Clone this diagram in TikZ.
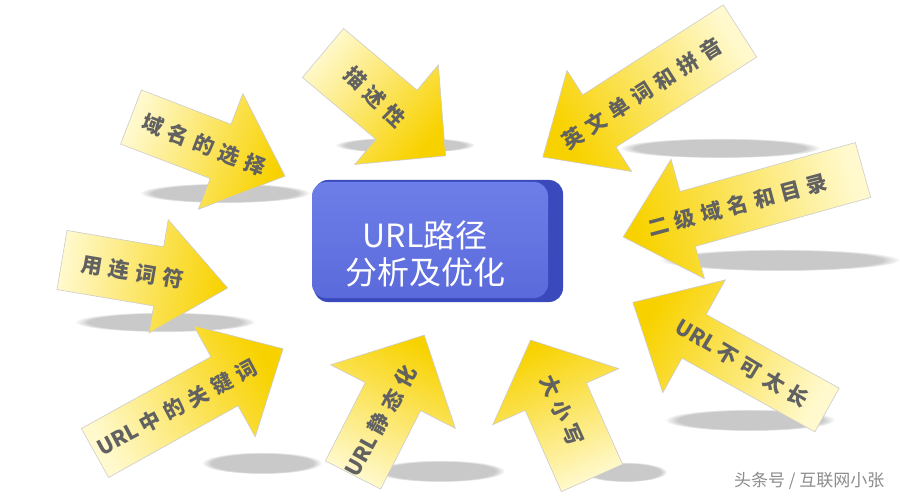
\documentclass[tikz,border=0pt]{standalone}
\usepackage{fontspec}
\setmainfont{Noto Sans CJK SC}
\newfontfamily\arrowfont[LetterSpace=30]{Noto Sans CJK SC}
\newfontfamily\plainlat{Noto Sans CJK SC}
\usetikzlibrary{fadings}
\definecolor{headc}{RGB}{248,210,0}
\definecolor{tailc}{RGB}{255,249,205}
\definecolor{boxfront}{RGB}{90,106,218}
\definecolor{boxtop}{RGB}{110,126,232}
\definecolor{boxside}{RGB}{58,74,188}
\tikzset{
  arrowbody/.style={draw=black!20, line width=0.6pt},
  arrowtext/.style={font=\arrowfont\bfseries\fontsize{21}{21}\selectfont, text=black!62, inner sep=0pt},
  shadowblob/.style={fill=black!50, opacity=0.42, path fading=circle with fuzzy edge 15 percent},
  boxtext/.style={font=\fontsize{32}{37}\selectfont, text=white, align=center},
  watermark/.style={font=\fontsize{17}{17}\selectfont, text=black!45, anchor=east},
}
% #1 tail centre, #2 angle, #3 length, #4 shaft width, #5 head width,
% #6 head length, #7 text position along axis, #8 text angle, #9 text
\newcommand\yarrow[9]{%
  \begin{scope}[shift={#1}, rotate=#2]
    \pgfmathsetmacro\hbase{#3-#6}
    \pgfmathsetmacro\shang{#2-90}
    \shade[arrowbody, bottom color=tailc, top color=headc, shading angle=\shang]
      (0,-#4/2) -- (\hbase,-#4/2) -- (\hbase,-#5/2) -- (#3,0) --
      (\hbase,#5/2) -- (\hbase,#4/2) -- (0,#4/2) -- cycle;
    \node[arrowtext, rotate=#8] at (#7,0) {#9};
  \end{scope}}
\newcommand\urlw{{\plainlat URL\kern4pt}}
\begin{document}
\begin{tikzpicture}[x=1pt, y=-1pt]
  \useasboundingbox (0,0) rectangle (900,500);
  \fill[white] (0,0) rectangle (900,500);
  % shadows
  \fill[shadowblob] (225,193) ellipse [x radius=85, y radius=10];
  \fill[shadowblob] (405,145) ellipse [x radius=70, y radius=8];
  \fill[shadowblob] (720,148) ellipse [x radius=100, y radius=10];
  \fill[shadowblob] (780,260) ellipse [x radius=120, y radius=11];
  \fill[shadowblob] (165,322) ellipse [x radius=90, y radius=10];
  \fill[shadowblob] (262,463) ellipse [x radius=60, y radius=11];
  \fill[shadowblob] (440,471) ellipse [x radius=65, y radius=11];
  \fill[shadowblob] (625,472) ellipse [x radius=42, y radius=10];
  \fill[shadowblob] (750,420) ellipse [x radius=85, y radius=11];
  % centre box
  \fill[boxside, rounded corners=14pt] (314,180) rectangle (563,302);
  \shade[top color=boxtop, bottom color=boxfront, rounded corners=14pt] (312,182) rectangle (548,298);
  \node[boxtext] (centre) at (425,254) {URL路径\\分析及优化};
  % arrows
  \yarrow{(131,117)}{-21}{165}{58}{124}{69}{78}{-21}{域名的选择}
  \yarrow{(323,53)}{-40}{160}{64}{130}{64}{68}{-44}{描述性}
  \yarrow{(740,31)}{212.6}{234}{62}{120}{67}{116}{32.6}{英文单词和拼音}
  \yarrow{(863,170)}{195.6}{249}{57}{124}{67}{130}{15}{二级域名和目录}
  \yarrow{(62,260)}{-9.6}{168}{60}{115}{70}{72}{-9.6}{用连词符}
  \yarrow{(95,453)}{29}{215}{56}{127}{67}{94}{28}{\urlw 中的关键词}
  \yarrow{(353,475)}{63}{157}{62}{140}{69}{61}{61}{\urlw 静态化}
  \yarrow{(592,478)}{114}{151}{67}{138}{62}{74}{-66}{大小写}
  \yarrow{(827,410)}{151}{222}{50}{129}{70}{97}{-31}{\urlw 不可太长}
  % watermark
  \node[watermark] (wm) at (888,481) {头条号 / 互联网小张};
\end{tikzpicture}
\end{document}
